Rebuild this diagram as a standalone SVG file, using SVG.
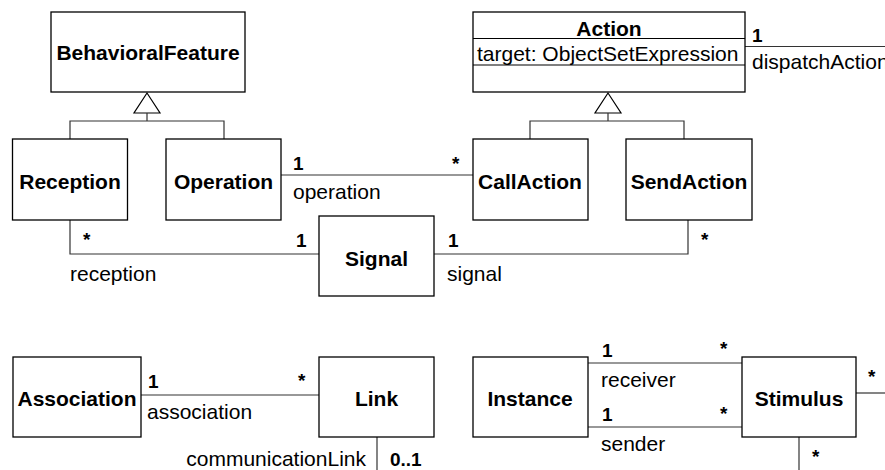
<svg xmlns="http://www.w3.org/2000/svg" width="885" height="470" viewBox="0 0 885 470">
<style>
.box{fill:#fff;stroke:#000;stroke-width:1.3}
.ln{fill:none;stroke:#333;stroke-width:1.2}
.tri{fill:#fff;stroke:#000;stroke-width:1.2}
.cn{font-family:"Liberation Sans",Arial,sans-serif;font-weight:bold;font-size:21px;text-anchor:middle;fill:#000}
.at{font-family:"Liberation Sans",Arial,sans-serif;font-size:21px;fill:#000}
.rl{font-family:"Liberation Sans",Arial,sans-serif;font-size:21px;fill:#000}
.m{font-family:"Liberation Sans",Arial,sans-serif;font-weight:bold;font-size:19px;fill:#000}
</style>
<g id="connectors">
  <polygon class="tri" points="147,93 134,113 160,113"/>
  <path class="ln" d="M147,113 V121 M70,139 V121 H224 V139"/>
  <polygon class="tri" points="608,93 595,113 621,113"/>
  <path class="ln" d="M608,113 V121 M530,139 V121 H684 V139"/>
  <path class="ln" d="M281,175 H473"/>
  <text class="m" x="293" y="170">1</text>
  <text class="m" x="452" y="170">*</text>
  <text class="rl" x="293" y="199">operation</text>
  <path class="ln" d="M70,220 V254 H319"/>
  <text class="m" x="83" y="246">*</text>
  <text class="m" x="296" y="247">1</text>
  <text class="rl" x="70" y="281">reception</text>
  <path class="ln" d="M434,254 H688 V220"/>
  <text class="m" x="448" y="247">1</text>
  <text class="m" x="701" y="246">*</text>
  <text class="rl" x="447" y="281">signal</text>
  <path class="ln" d="M745,46.5 H885"/>
  <text class="m" x="752" y="42">1</text>
  <text class="rl" x="752" y="69">dispatchAction</text>
  <path class="ln" d="M141,395 H319"/>
  <text class="m" x="148" y="388">1</text>
  <text class="m" x="298" y="387">*</text>
  <text class="rl" x="147" y="419">association</text>
  <path class="ln" d="M377,437 V470"/>
  <text class="m" x="390" y="466">0..1</text>
  <text class="rl" x="366" y="466" text-anchor="end">communicationLink</text>
  <path class="ln" d="M588,363 H742"/>
  <text class="m" x="602" y="356.5">1</text>
  <text class="m" x="720" y="355">*</text>
  <text class="rl" x="601" y="386.5">receiver</text>
  <path class="ln" d="M588,427 H742"/>
  <text class="m" x="602" y="420.5">1</text>
  <text class="m" x="720" y="420">*</text>
  <text class="rl" x="601" y="450.5">sender</text>
  <path class="ln" d="M856,393 H885"/>
  <text class="m" x="868" y="383">*</text>
  <path class="ln" d="M799,437 V470"/>
  <text class="m" x="812" y="463">*</text>
</g>
<g id="BehavioralFeature">
  <rect class="box" x="51" y="12" width="194" height="80"/>
  <text class="cn" x="148" y="60">BehavioralFeature</text>
</g>
<g id="Action">
  <rect class="box" x="473" y="12" width="272" height="80"/>
  <path class="ln" d="M473,38.5 H745 M473,65 H745" style="stroke:#000"/>
  <text class="cn" x="609" y="36">Action</text>
  <text class="at" x="477" y="61">target: ObjectSetExpression</text>
</g>
<g id="Reception">
  <rect class="box" x="12.5" y="139" width="115" height="81"/>
  <text class="cn" x="70" y="189">Reception</text>
</g>
<g id="Operation">
  <rect class="box" x="166" y="139" width="115" height="81"/>
  <text class="cn" x="223.5" y="189">Operation</text>
</g>
<g id="CallAction">
  <rect class="box" x="473" y="139" width="115" height="81"/>
  <text class="cn" x="530" y="189">CallAction</text>
</g>
<g id="SendAction">
  <rect class="box" x="626" y="139" width="126" height="81"/>
  <text class="cn" x="689" y="189">SendAction</text>
</g>
<g id="Signal">
  <rect class="box" x="319" y="216" width="115" height="80"/>
  <text class="cn" x="376.5" y="266">Signal</text>
</g>
<g id="Association">
  <rect class="box" x="13" y="357" width="128" height="80"/>
  <text class="cn" x="77" y="406">Association</text>
</g>
<g id="Link">
  <rect class="box" x="319" y="357" width="115" height="80"/>
  <text class="cn" x="376.5" y="406">Link</text>
</g>
<g id="Instance">
  <rect class="box" x="473" y="357" width="115" height="80"/>
  <text class="cn" x="530" y="406">Instance</text>
</g>
<g id="Stimulus">
  <rect class="box" x="742" y="357" width="114" height="80"/>
  <text class="cn" x="799" y="406">Stimulus</text>
</g>
</svg>
